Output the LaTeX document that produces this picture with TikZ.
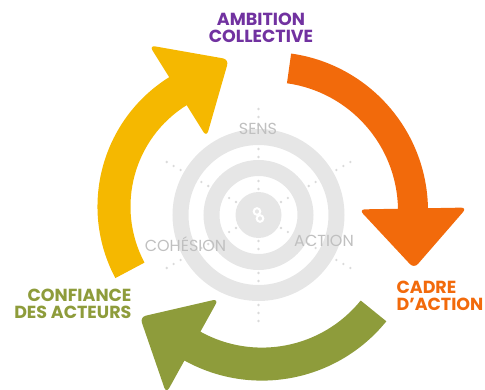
\documentclass[tikz,border=0pt]{standalone}
\usepackage{fontspec}
\setmainfont{Poppins}
\usetikzlibrary{calc}
\definecolor{ambition}{RGB}{113,50,160}
\definecolor{cadre}{RGB}{242,106,11}
\definecolor{confiance}{RGB}{142,156,59}
\definecolor{cohesion}{RGB}{245,184,0}
\definecolor{ringgrey}{RGB}{230,230,230}
\definecolor{dotgrey}{RGB}{218,218,218}
\definecolor{labelgrey}{RGB}{192,192,192}
\def\cyclearrow[#1](#2)(#3:#4:#5:#6){\fill[#1] ($(#2)+(#3:{#5+#6})$) arc[start angle=#3, end angle=#4, radius={#5+#6}] [rounded corners=6pt] -- ($(#2)+(#4:{#5+54})$) -- ($(#2)+(#4:#5)+({#4-90}:60)$) -- ($(#2)+(#4:{#5-54})$) [sharp corners] -- ($(#2)+(#4:{#5-#6})$) arc[start angle=#4, end angle=#3, radius={#5-#6}] -- cycle;}

\begin{document}
\begin{tikzpicture}[x=1pt, y=1pt,
	title/.style={font=\bfseries\fontsize{17.5}{17}\selectfont},
	ringlabel/.style={font=\fontsize{16}{18}\selectfont, color=labelgrey},
	dots/.style={line width=2.6pt, color=dotgrey, line cap=round, dash pattern=on 0pt off 8pt}]
		%%%%% START %%%%%
		
		\useasboundingbox (0, 0) rectangle (485, 389);
		\clip (0, 0) rectangle (485, 389);
		
		% target
		\coordinate (target) at (258.5, 174);
		\draw[dots] ($(target)+(90:26)$) -- ($(target)+(90:106)$);
		\draw[dots] ($(target)+(30:26)$) -- ($(target)+(30:106)$);
		\draw[dots] ($(target)+(150:26)$) -- ($(target)+(150:106)$);
		\draw[dots] ($(target)+(210:26)$) -- ($(target)+(210:106)$);
		\draw[dots] ($(target)+(270:26)$) -- ($(target)+(270:106)$);
		\draw[dots] ($(target)+(330:26)$) -- ($(target)+(330:106)$);
		
		\draw[line width=16pt, color=ringgrey] (target) circle (78);
		\draw[line width=16pt, color=ringgrey] (target) circle (47);
		\fill[color=ringgrey] (target) circle (23);
		\draw[line width=2pt, color=white] ($(target)+(-1.5,3.5)$) circle (3.3);
		\draw[line width=2pt, color=white] ($(target)+(1.5,-3.5)$) circle (3.3);
		
		\node[ringlabel] (sens) at (258, 260.5) {SENS};
		\node[ringlabel] (action) at (324, 148.5) {ACTION};
		\node[ringlabel] (cohesionlabel) at (185.5, 145) {COHÉSION};
		
		% arrows
		\cyclearrow[color=cohesion](250, 182.5)(208:122:136:16.5)
		\cyclearrow[color=cadre](269, 178)(82:1:144:15)
		\cyclearrow[color=confiance](262, 168.4)(-39:-119:143.5:16.5)
		
		\node[title, color=ambition, align=center] (ambition) at (261, 361.5) {AMBITION\\COLLECTIVE};
		\node[title, color=cadre, align=left, anchor=west] (cadrelabel) at (393, 93.6) {CADRE\\D’ACTION};
		\node[title, color=confiance, align=right, anchor=east] (confiancelabel) at (135, 85.5) {CONFIANCE\\DES ACTEURS};
		
		%%%%% END %%%%%
	\end{tikzpicture}
\end{document}
